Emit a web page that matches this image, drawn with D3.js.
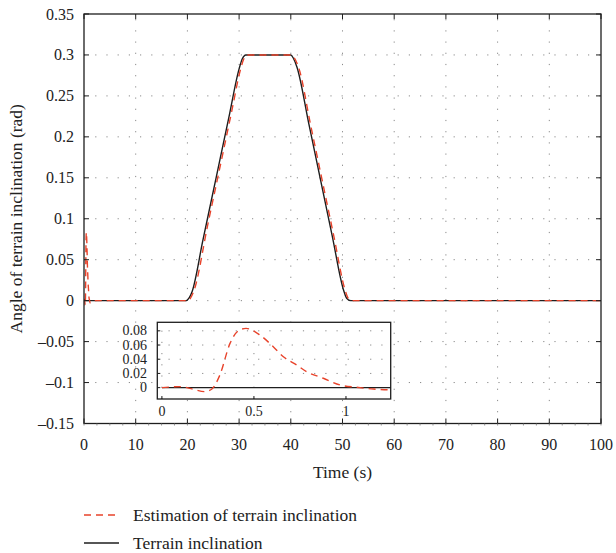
<!DOCTYPE html>
<html>
<head>
<meta charset="utf-8">
<script src="https://cdn.jsdelivr.net/npm/d3@7"></script>
<style>
  body { margin: 0; background: #fff; }
  text { font-family: "Liberation Serif", "DejaVu Serif", serif; fill: #222; }
</style>
</head>
<body>
<div id="chart"></div>
<script>
// data
var xTicks = [0, 10, 20, 30, 40, 50, 60, 70, 80, 90, 100];
var yTicks = [-0.15, -0.1, -0.05, 0, 0.05, 0.1, 0.15, 0.2, 0.25, 0.3, 0.35];
var insetXTicks = [0, 0.5, 1];
var insetYTicks = [0, 0.02, 0.04, 0.06, 0.08];

// terrain inclination (black)
var terrainT = [0, 19.8, 20.3, 20.9, 23, 25.5, 28, 30.0, 30.6, 31.3, 40.0, 40.5, 41.2, 43.5, 45.7, 48,
                50.2, 50.8, 51.6, 100];
var terrainV = [0, 0, 0.003, 0.011, 0.0738, 0.1485, 0.2232, 0.283, 0.295, 0.3, 0.3, 0.296, 0.285,
                0.2155, 0.149, 0.0795, 0.013, 0.003, 0, 0];

// estimation (red dashed)
var estT = [0, 0.1, 0.17, 0.234, 0.27, 0.315, 0.37, 0.415, 0.457, 0.533, 0.605, 0.66, 0.732, 0.786,
            0.877, 0.967, 1.058, 1.15, 1.243, 2, 20.2, 20.6, 21.2, 24, 26.5, 28.5, 30.3, 30.9, 31.6, 40.1,
            40.7, 41.5, 43.8, 46, 48.3, 50.5, 51.1, 51.9, 100];
var estV = [0, 0.0014, -0.0023, -0.0056, -0.0023, 0.0178, 0.0623, 0.08, 0.0834, 0.074, 0.0576, 0.0435,
            0.0319, 0.0225, 0.0132, 0.0038, 0.0005, -0.002, -0.003, 0, 0, 0.003, 0.011, 0.0947, 0.169,
            0.229, 0.283, 0.295, 0.3, 0.3, 0.296, 0.285, 0.2155, 0.149, 0.0795, 0.013, 0.003, 0, 0];

var terrain = terrainT.map(function(t, i) { return [t, terrainV[i]]; });
var estimate = estT.map(function(t, i) { return [t, estV[i]]; });

var W = 616, H = 553;
var plot = { left: 84, right: 601, top: 14, bottom: 423.5 };
var inset = { left: 157.3, right: 390.7, top: 322.3, bottom: 399 };

var svg = d3.select("#chart").append("svg")
    .attr("width", W).attr("height", H);

var x = d3.scaleLinear().domain([0, 100]).range([plot.left, plot.right]);
var y = d3.scaleLinear().domain([-0.15, 0.35]).range([plot.bottom, plot.top]);

var ix = d3.scaleLinear().domain([-0.025, 1.243]).range([inset.left, inset.right]);
var iy = d3.scaleLinear().domain([-0.016, 0.092]).range([inset.bottom, inset.top]);

var red = "#e8432b";
var fmt = function(v) {
    var s = d3.format(".2~f")(Math.abs(v));
    return (v < -1e-9 ? "\u2013" : "") + s;
};

var defs = svg.append("defs");
defs.append("clipPath").attr("id", "clipMain").append("rect")
    .attr("x", plot.left).attr("y", plot.top)
    .attr("width", plot.right - plot.left).attr("height", plot.bottom - plot.top);
defs.append("clipPath").attr("id", "clipInset").append("rect")
    .attr("x", inset.left).attr("y", inset.top)
    .attr("width", inset.right - inset.left).attr("height", inset.bottom - inset.top);

// dotted grid (main)
var grid = svg.append("g").attr("stroke", "#8a8a8a").attr("stroke-width", 1)
    .attr("stroke-dasharray", "1.2,10");
grid.selectAll(".gx").data(xTicks.slice(1, -1)).enter().append("line")
    .attr("x1", function(d) { return x(d); }).attr("x2", function(d) { return x(d); })
    .attr("y1", plot.bottom).attr("y2", plot.top);
grid.selectAll(".gy").data(yTicks.slice(1, -1)).enter().append("line")
    .attr("y1", function(d) { return y(d); }).attr("y2", function(d) { return y(d); })
    .attr("x1", plot.left).attr("x2", plot.right);

// curves (main)
var line = d3.line().x(function(d) { return x(d[0]); }).y(function(d) { return y(d[1]); })
    .curve(d3.curveMonotoneX);
var gMain = svg.append("g").attr("clip-path", "url(#clipMain)");
gMain.append("path").attr("d", line(terrain))
    .attr("fill", "none").attr("stroke", "#1e1e1e").attr("stroke-width", 1.4);
gMain.append("path").attr("d", line(estimate))
    .attr("fill", "none").attr("stroke", red).attr("stroke-width", 1.4)
    .attr("stroke-dasharray", "7,5");

// axes frame
var axisG = svg.append("g").attr("stroke", "#1e1e1e");
axisG.append("rect")
    .attr("x", plot.left).attr("y", plot.top)
    .attr("width", plot.right - plot.left).attr("height", plot.bottom - plot.top)
    .attr("fill", "none").attr("stroke-width", 1.3);

// major ticks inward on all sides
axisG.selectAll(".tb").data(xTicks).enter().append("line")
    .attr("x1", function(d) { return x(d); }).attr("x2", function(d) { return x(d); })
    .attr("y1", plot.bottom).attr("y2", plot.bottom - 5);
axisG.selectAll(".tt").data(xTicks).enter().append("line")
    .attr("x1", function(d) { return x(d); }).attr("x2", function(d) { return x(d); })
    .attr("y1", plot.top).attr("y2", plot.top + 5);
axisG.selectAll(".tl").data(yTicks).enter().append("line")
    .attr("y1", function(d) { return y(d); }).attr("y2", function(d) { return y(d); })
    .attr("x1", plot.left).attr("x2", plot.left + 5);
axisG.selectAll(".tr").data(yTicks).enter().append("line")
    .attr("y1", function(d) { return y(d); }).attr("y2", function(d) { return y(d); })
    .attr("x1", plot.right).attr("x2", plot.right - 5);
// faint minor ticks under the bottom axis
axisG.selectAll(".tm").data(d3.range(0, 100.1, 2.5)).enter().append("line")
    .attr("x1", function(d) { return x(d); }).attr("x2", function(d) { return x(d); })
    .attr("y1", plot.bottom).attr("y2", plot.bottom + 2)
    .attr("stroke", "#777").attr("stroke-width", 0.8);

// tick labels
svg.selectAll(".xl").data(xTicks).enter().append("text")
    .attr("x", function(d) { return x(d); }).attr("y", 444)
    .attr("text-anchor", "middle").attr("dominant-baseline", "central")
    .attr("font-size", 16).text(function(d) { return d; });
svg.selectAll(".yl").data(yTicks).enter().append("text")
    .attr("x", 74).attr("y", function(d) { return y(d); })
    .attr("text-anchor", "end").attr("dominant-baseline", "central")
    .attr("font-size", 16).text(fmt);

// axis titles
svg.append("text").attr("x", (plot.left + plot.right) / 2).attr("y", 472)
    .attr("text-anchor", "middle").attr("dominant-baseline", "central")
    .attr("font-size", 17.5).text("Time (s)");
svg.append("text")
    .attr("transform", "translate(16," + ((plot.top + plot.bottom) / 2) + ") rotate(-90)")
    .attr("text-anchor", "middle").attr("dominant-baseline", "central")
    .attr("font-size", 17.5).text("Angle of terrain inclination (rad)");

// ---- inset ----
var gi = svg.append("g");
gi.append("rect")
    .attr("x", inset.left).attr("y", inset.top)
    .attr("width", inset.right - inset.left).attr("height", inset.bottom - inset.top)
    .attr("fill", "#fff");
var igrid = gi.append("g").attr("stroke", "#8a8a8a").attr("stroke-dasharray", "1.2,10");
igrid.selectAll(".igx").data(insetXTicks).enter().append("line")
    .attr("x1", function(d) { return ix(d); }).attr("x2", function(d) { return ix(d); })
    .attr("y1", inset.bottom).attr("y2", inset.top);
igrid.selectAll(".igy").data(insetYTicks.slice(1)).enter().append("line")
    .attr("y1", function(d) { return iy(d); }).attr("y2", function(d) { return iy(d); })
    .attr("x1", inset.left).attr("x2", inset.right);

var iline = d3.line().x(function(d) { return ix(d[0]); }).y(function(d) { return iy(d[1]); })
    .curve(d3.curveMonotoneX);
var gic = gi.append("g").attr("clip-path", "url(#clipInset)");
gic.append("path").attr("d", iline(terrain))
    .attr("fill", "none").attr("stroke", "#1e1e1e").attr("stroke-width", 1.4);
gic.append("path").attr("d", iline(estimate))
    .attr("fill", "none").attr("stroke", red).attr("stroke-width", 1.4)
    .attr("stroke-dasharray", "7,5");

gi.append("rect")
    .attr("x", inset.left).attr("y", inset.top)
    .attr("width", inset.right - inset.left).attr("height", inset.bottom - inset.top)
    .attr("fill", "none").attr("stroke", "#1e1e1e").attr("stroke-width", 1.3);
gi.selectAll(".itx").data(insetXTicks).enter().append("line")
    .attr("x1", function(d) { return ix(d); }).attr("x2", function(d) { return ix(d); })
    .attr("y1", inset.bottom).attr("y2", inset.bottom - 3).attr("stroke", "#1e1e1e");
gi.selectAll(".ity").data(insetYTicks).enter().append("line")
    .attr("y1", function(d) { return iy(d); }).attr("y2", function(d) { return iy(d); })
    .attr("x1", inset.left).attr("x2", inset.left + 3).attr("stroke", "#1e1e1e");
gi.selectAll(".ixl").data(insetXTicks).enter().append("text")
    .attr("x", function(d) { return ix(d); }).attr("y", 411.5)
    .attr("text-anchor", "middle").attr("dominant-baseline", "central")
    .attr("font-size", 14).text(function(d) { return d; });
gi.selectAll(".iyl").data(insetYTicks).enter().append("text")
    .attr("x", 147).attr("y", function(d) { return iy(d); })
    .attr("text-anchor", "end").attr("dominant-baseline", "central")
    .attr("font-size", 14).text(fmt);

// ---- legend ----
var legendItems = [
    { label: "Estimation of terrain inclination", color: red, dash: "7,5", y: 515 },
    { label: "Terrain inclination", color: "#1e1e1e", dash: null, y: 543 }
];
var lg = svg.selectAll(".lg").data(legendItems).enter().append("g");
lg.append("line")
    .attr("x1", 84).attr("x2", 119)
    .attr("y1", function(d) { return d.y; }).attr("y2", function(d) { return d.y; })
    .attr("stroke", function(d) { return d.color; }).attr("stroke-width", 1.4)
    .attr("stroke-dasharray", function(d) { return d.dash; });
lg.append("text")
    .attr("x", 133).attr("y", function(d) { return d.y; })
    .attr("dominant-baseline", "central").attr("font-size", 17.5)
    .text(function(d) { return d.label; });
</script>
</body>
</html>
